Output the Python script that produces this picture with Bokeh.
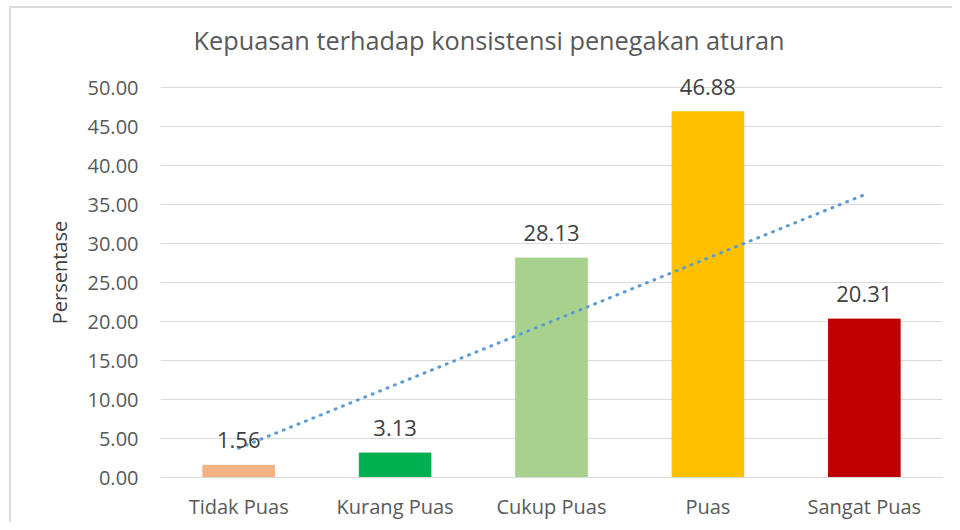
from bokeh.plotting import figure
from bokeh.models import ColumnDataSource, NumeralTickFormatter, Title, FactorRange, Range1d
from bokeh.core.properties import value
from bokeh.embed import file_html
from bokeh.resources import INLINE
import numpy as np

categories = ["Tidak Puas", "Kurang Puas", "Cukup Puas", "Puas", "Sangat Puas"]
values = [1.56, 3.13, 28.13, 46.88, 20.31]
colors = ["#F4B183", "#00B050", "#A9D18E", "#FFC000", "#C00000"]
labels = ["1.56", "3.13", "28.13", "46.88", "20.31"]
y_ticks = [0, 5, 10, 15, 20, 25, 30, 35, 40, 45, 50]

FONT = "Open Sans"

# linear trendline (least squares over category index)
idx = np.arange(1, len(values) + 1)
slope, intercept = np.polyfit(idx, values, 1)
trend = list(slope * idx + intercept)

src = ColumnDataSource(dict(cat=categories, val=values, color=colors, label=labels, trend=trend))

# 7.8 px per unit; extend range above 50 so the top data label is not clipped
y_top = 50 + 20 / 7.8

p = figure(
    x_range=FactorRange(*categories, range_padding=0),
    y_range=Range1d(0, y_top),
    frame_width=782, frame_height=410,
    min_border_left=149, min_border_right=10, min_border_top=59, min_border_bottom=45,
    output_backend="svg", toolbar_location=None,
)
p.margin = (6, 0, 0, 9)
p.styles = {"border-left": "2px solid #D9D9D9", "border-top": "2px solid #D9D9D9"}

p.vbar(x="cat", top="val", width=0.458, color="color", source=src)
p.line(x="cat", y="trend", source=src, line_color="#5B9BD5", line_width=3,
       line_dash="1 7", line_cap="round")
p.text(x="cat", y="val", text="label", source=src, text_align="center",
       text_baseline="alphabetic", y_offset=-25, text_font=value(FONT),
       text_font_size="22px", text_color="#404040")

title = Title(text="Kepuasan terhadap konsistensi penegakan aturan", align="left",
              offset=33, standoff=22, text_font=FONT, text_font_size="25.3px",
              text_font_style="normal", text_color="#595959")
p.add_layout(title, "above")

p.xgrid.visible = False
p.ygrid.grid_line_color = "#D9D9D9"
p.ygrid.grid_line_width = 1
p.yaxis.ticker = y_ticks
p.yaxis.formatter = NumeralTickFormatter(format="0.00")
p.yaxis.axis_line_color = None
p.yaxis.major_tick_line_color = None
p.yaxis.minor_tick_line_color = None
p.yaxis.major_label_standoff = 16
p.yaxis.major_label_text_font = FONT
p.yaxis.major_label_text_font_size = "20px"
p.yaxis.major_label_text_color = "#595959"
p.yaxis.axis_label = "Persentase"
p.yaxis.axis_label_text_font = FONT
p.yaxis.axis_label_text_font_size = "20px"
p.yaxis.axis_label_text_font_style = "normal"
p.yaxis.axis_label_text_color = "#404040"
p.yaxis.axis_label_standoff = 12

p.xaxis.axis_line_color = "#D9D9D9"
p.xaxis.major_tick_line_color = None
p.xaxis.minor_tick_line_color = None
p.xaxis.major_label_standoff = 9
p.xaxis.major_label_text_font = FONT
p.xaxis.major_label_text_font_size = "20px"
p.xaxis.major_label_text_color = "#595959"

p.outline_line_color = None
p.background_fill_color = "white"
p.border_fill_color = "white"

open("out.html", "w").write(file_html(p, INLINE))
